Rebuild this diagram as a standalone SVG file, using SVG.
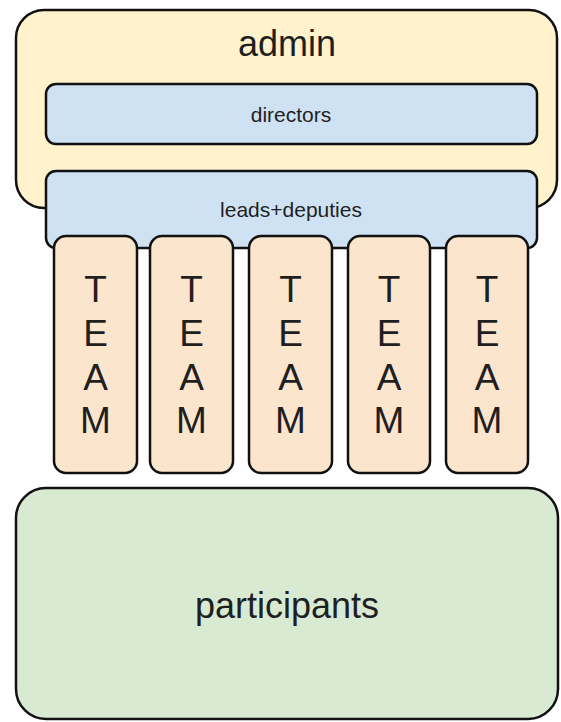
<svg xmlns="http://www.w3.org/2000/svg" width="561" height="722" viewBox="0 0 561 722">
  <style>
    .box { stroke: #111; stroke-width: 2.5; }
    .admin { fill: #fff2cc; }
    .blue { fill: #cfe2f3; }
    .team { fill: #fce5cd; }
    .part { fill: #d9ead3; }
    text { font-family: "Liberation Sans", Arial, sans-serif; fill: #1f1f1f; text-anchor: middle; }
    .big { font-size: 36px; }
    .small { font-size: 21px; }
    .letters { font-size: 37px; }
  </style>
  <rect width="561" height="722" fill="#ffffff"/>

  <g id="admin">
    <rect class="box admin" x="16" y="10" width="541" height="198" rx="28"/>
    <text class="big" x="287" y="56">admin</text>
  </g>

  <g id="directors">
    <rect class="box blue" x="46" y="84" width="491" height="60" rx="10"/>
    <text class="small" x="291" y="122">directors</text>
  </g>

  <g id="leads">
    <rect class="box blue" x="46" y="171" width="491" height="77" rx="10"/>
    <text class="small" x="291" y="217">leads+deputies</text>
  </g>

  <g id="team1">
    <rect class="box team" x="54" y="236" width="83" height="237" rx="12"/>
    <text class="letters" x="95.5"><tspan x="95.5" y="302">T</tspan><tspan x="95.5" y="346">E</tspan><tspan x="95.5" y="390">A</tspan><tspan x="95.5" y="433">M</tspan></text>
  </g>
  <g id="team2">
    <rect class="box team" x="150" y="236" width="83" height="237" rx="12"/>
    <text class="letters" x="191.5"><tspan x="191.5" y="302">T</tspan><tspan x="191.5" y="346">E</tspan><tspan x="191.5" y="390">A</tspan><tspan x="191.5" y="433">M</tspan></text>
  </g>
  <g id="team3">
    <rect class="box team" x="249" y="236" width="83" height="237" rx="12"/>
    <text class="letters" x="290.5"><tspan x="290.5" y="302">T</tspan><tspan x="290.5" y="346">E</tspan><tspan x="290.5" y="390">A</tspan><tspan x="290.5" y="433">M</tspan></text>
  </g>
  <g id="team4">
    <rect class="box team" x="348" y="236" width="82" height="237" rx="12"/>
    <text class="letters" x="389"><tspan x="389" y="302">T</tspan><tspan x="389" y="346">E</tspan><tspan x="389" y="390">A</tspan><tspan x="389" y="433">M</tspan></text>
  </g>
  <g id="team5">
    <rect class="box team" x="446" y="236" width="82" height="237" rx="12"/>
    <text class="letters" x="487"><tspan x="487" y="302">T</tspan><tspan x="487" y="346">E</tspan><tspan x="487" y="390">A</tspan><tspan x="487" y="433">M</tspan></text>
  </g>

  <g id="participants">
    <rect class="box part" x="16" y="488" width="542" height="231" rx="30"/>
    <text class="big" x="287" y="618">participants</text>
  </g>

  <g id="connectors"/>
</svg>
